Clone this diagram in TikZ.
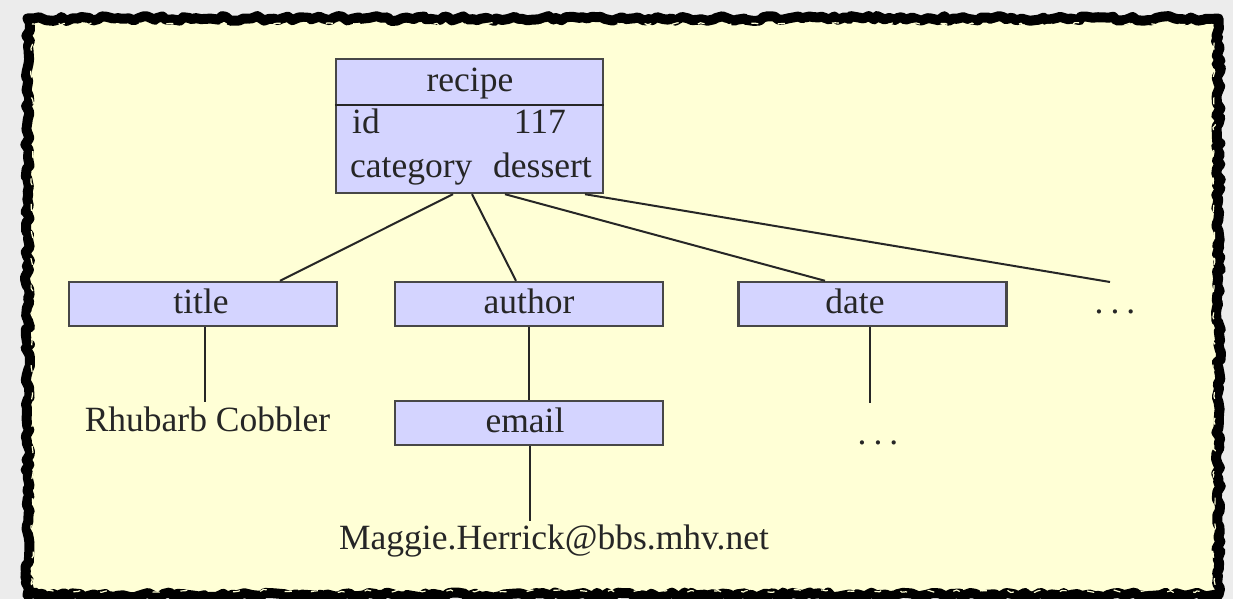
\documentclass[tikz,border=0pt]{standalone}
\usepackage{fontspec}
\setmainfont{Liberation Serif}
\usetikzlibrary{decorations.pathmorphing,calc}
\definecolor{pagebg}{HTML}{ECECEC}
\definecolor{paper}{HTML}{FFFFD6}
\definecolor{boxfill}{HTML}{D4D4FF}
\definecolor{ink}{HTML}{262626}
\tikzset{
  ebox/.style={draw=ink!85,fill=boxfill,line width=2.4pt,minimum width=268pt,minimum height=44pt,inner sep=0pt},
  lab/.style={text=ink,inner sep=0pt,anchor=base},
  link/.style={draw=ink,line width=2pt},
  rough/.style={draw=black,line join=round,decorate,decoration={random steps,segment length=5pt,amplitude=2.5pt}},
  speck/.style={draw=paper,line width=1.2pt,dash pattern=on 7pt off 21pt,line join=round,decorate,decoration={random steps,segment length=4pt,amplitude=1.5pt}}
}
\begin{document}
\begin{tikzpicture}[x=1pt,y=-1pt,font=\fontsize{35.5}{43}\selectfont]
\useasboundingbox (0,0) rectangle (1233,599);
\fill[pagebg] (0,0) rectangle (1233,599);
\pgfmathsetseed{117}
\fill[paper] (28,18) rectangle (1219,594);
\draw[rough,line width=10pt] (27.5,18.5) -- (1218.5,18.5) -- (1218.5,595) -- (27.5,595) -- cycle;
\draw[speck] (32,24) -- (1214,24) -- (1214,591) -- (32,591) -- cycle;
% recipe
\node[ebox,minimum width=267pt,minimum height=134pt] (recipe) at (469.5,126) {};
\draw[link] (recipe.west |- 0,105) coordinate (hl) -- (recipe.east |- 0,105) coordinate (hr);
\node[lab] (rname) at (470,92) {recipe};
\node[lab,anchor=base west] (idk) at (352,133) {id};
\node[lab,anchor=base east] (idv) at (566,133) {117};
\node[lab,anchor=base west] (catk) at (350,177) {category};
\node[lab,anchor=base east] (catv) at (592,177) {dessert};
% second row
\node[ebox] (title) at (203,304) {};
\node[lab] (titlet) at (201,313) {title};
\node[ebox] (author) at (529,304) {};
\node[lab] (authort) at (529,313) {author};
\node[ebox] (date) at (872.5,304) {};
\node[lab] (datet) at (855,313) {date};
\node[lab] (dots1) at (1115,313) {.\hspace{7pt}.\hspace{7pt}.};
% third row
\node[lab] (rhubarb) at (207.5,431) {Rhubarb Cobbler};
\node[ebox] (email) at (529,423) {};
\node[lab] (emailt) at (525,432) {email};
\node[lab] (dots2) at (878,444) {.\hspace{7pt}.\hspace{7pt}.};
\node[lab] (maggie) at (554,549) {Maggie.Herrick@bbs.mhv.net};
% free ends
\coordinate (datefoot) at (870,403);
\coordinate (dotstop) at (1110,282);
\coordinate (titlefoot) at (205,402);
\coordinate (mailfoot) at (530,521);
% connectors
\draw[link] ([xshift=-16.5pt]recipe.south) -- ([xshift=77pt]title.north);
\draw[link] ([xshift=2.5pt]recipe.south) -- ([xshift=-13pt]author.north);
\draw[link] ([xshift=35.5pt]recipe.south) -- ([xshift=-47.5pt]date.north);
\draw[link] ([xshift=115.5pt]recipe.south) -- (dotstop);
\draw[link] (title.south -| titlefoot) -- (titlefoot);
\draw[link] (author.south -| email.north) -- (email.north);
\draw[link] (date.south -| datefoot) -- (datefoot);
\draw[link] (email.south -| mailfoot) -- (mailfoot);
\end{tikzpicture}
\end{document}
